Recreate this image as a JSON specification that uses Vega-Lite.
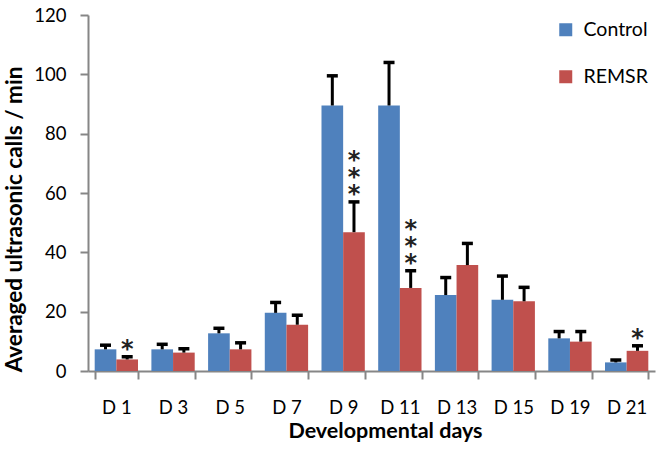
{
"$schema": "https://vega.github.io/schema/vega-lite/v6.json",
"width": 567, "height": 356,
"autosize": {"type": "none"},
"padding": {"left": 88, "top": 15, "right": 7, "bottom": 82},
"background": "white",
"config": {"view": {"stroke": null}, "font": "Lato"},
"data": {"values": [
 {"day": "D 1", "group": "Control", "value": 7.3, "upper": 8.7, "stars": 0},
 {"day": "D 1", "group": "REMSR", "value": 3.9, "upper": 4.8, "stars": 1},
 {"day": "D 3", "group": "Control", "value": 7.3, "upper": 9.0, "stars": 0},
 {"day": "D 3", "group": "REMSR", "value": 6.2, "upper": 7.5, "stars": 0},
 {"day": "D 5", "group": "Control", "value": 12.7, "upper": 14.4, "stars": 0},
 {"day": "D 5", "group": "REMSR", "value": 7.3, "upper": 9.5, "stars": 0},
 {"day": "D 7", "group": "Control", "value": 19.6, "upper": 23.1, "stars": 0},
 {"day": "D 7", "group": "REMSR", "value": 15.6, "upper": 18.8, "stars": 0},
 {"day": "D 9", "group": "Control", "value": 89.5, "upper": 99.5, "stars": 0},
 {"day": "D 9", "group": "REMSR", "value": 46.8, "upper": 57.0, "stars": 3},
 {"day": "D 11", "group": "Control", "value": 89.5, "upper": 104.0, "stars": 0},
 {"day": "D 11", "group": "REMSR", "value": 28.0, "upper": 33.8, "stars": 3},
 {"day": "D 13", "group": "Control", "value": 25.6, "upper": 31.5, "stars": 0},
 {"day": "D 13", "group": "REMSR", "value": 35.7, "upper": 43.0, "stars": 0},
 {"day": "D 15", "group": "Control", "value": 24.0, "upper": 32.0, "stars": 0},
 {"day": "D 15", "group": "REMSR", "value": 23.5, "upper": 28.2, "stars": 0},
 {"day": "D 19", "group": "Control", "value": 11.0, "upper": 13.3, "stars": 0},
 {"day": "D 19", "group": "REMSR", "value": 9.9, "upper": 13.3, "stars": 0},
 {"day": "D 21", "group": "Control", "value": 2.9, "upper": 3.7, "stars": 0},
 {"day": "D 21", "group": "REMSR", "value": 6.8, "upper": 8.5, "stars": 1}
]},
"encoding": {
 "x": {"field": "day", "type": "nominal",
   "sort": ["D 1","D 3","D 5","D 7","D 9","D 11","D 13","D 15","D 19","D 21"],
   "scale": {"paddingInner": 0.236, "paddingOuter": 0.118},
   "axis": {"title": "Developmental days", "labelAngle": 0, "tickBand": "extent",
     "domainColor": "#868686", "domainWidth": 2, "tickColor": "#868686", "tickWidth": 2, "tickSize": 8,
     "labelFontSize": 18.5, "labelColor": "#000", "labelPadding": 19,
     "titleFontSize": 21.5, "titleFontWeight": "bold", "titleColor": "#000", "titlePadding": 4, "titleX": 297}},
 "xOffset": {"field": "group", "type": "nominal", "sort": ["Control", "REMSR"]}
},
"layer": [
 {"mark": {"type": "bar"},
  "encoding": {
   "y": {"field": "value", "type": "quantitative",
     "scale": {"domain": [0, 120]},
     "axis": {"values": [0,20,40,60,80,100,120], "grid": false, "title": "Averaged ultrasonic calls / min",
       "domainColor": "#868686", "domainWidth": 2, "tickColor": "#868686", "tickWidth": 2, "tickSize": 8,
       "labelFontSize": 18.5, "labelColor": "#000", "labelPadding": 14,
       "titleFontSize": 22.5, "titleFontWeight": "bold", "titleColor": "#000", "titlePadding": 7, "titleY": 204}},
   "color": {"field": "group", "type": "nominal",
     "scale": {"domain": ["Control", "REMSR"], "range": ["#4F81BD", "#C0504D"]},
     "legend": {"title": null, "orient": "none", "legendX": 468, "legendY": 5, "symbolType": "square",
       "symbolSize": 169, "symbolStrokeWidth": 0, "labelFontSize": 19.5, "labelColor": "#000", "labelOffset": 8,
       "rowPadding": 26, "padding": 0}}
  }},
 {"mark": {"type": "rule", "strokeWidth": 3, "color": "black"},
  "encoding": {"y": {"field": "value", "type": "quantitative"}, "y2": {"field": "upper"}}},
 {"mark": {"type": "tick", "orient": "horizontal", "thickness": 3.5, "size": 11, "color": "black", "opacity": 1},
  "encoding": {"y": {"field": "upper", "type": "quantitative"}}},
 {"transform": [{"filter": "datum.stars >= 1"}],
  "mark": {"type": "text", "text": "*", "font": "DejaVu Sans", "fontWeight": "bold", "fontSize": 24,
    "baseline": "alphabetic", "align": "center", "dy": 0, "color": "#222"},
  "encoding": {"y": {"field": "upper", "type": "quantitative"}}},
 {"transform": [{"filter": "datum.stars >= 2"}],
  "mark": {"type": "text", "text": "*", "font": "DejaVu Sans", "fontWeight": "bold", "fontSize": 24,
    "baseline": "alphabetic", "align": "center", "dy": -17, "color": "#222"},
  "encoding": {"y": {"field": "upper", "type": "quantitative"}}},
 {"transform": [{"filter": "datum.stars >= 3"}],
  "mark": {"type": "text", "text": "*", "font": "DejaVu Sans", "fontWeight": "bold", "fontSize": 24,
    "baseline": "alphabetic", "align": "center", "dy": -34, "color": "#222"},
  "encoding": {"y": {"field": "upper", "type": "quantitative"}}}
]
}
